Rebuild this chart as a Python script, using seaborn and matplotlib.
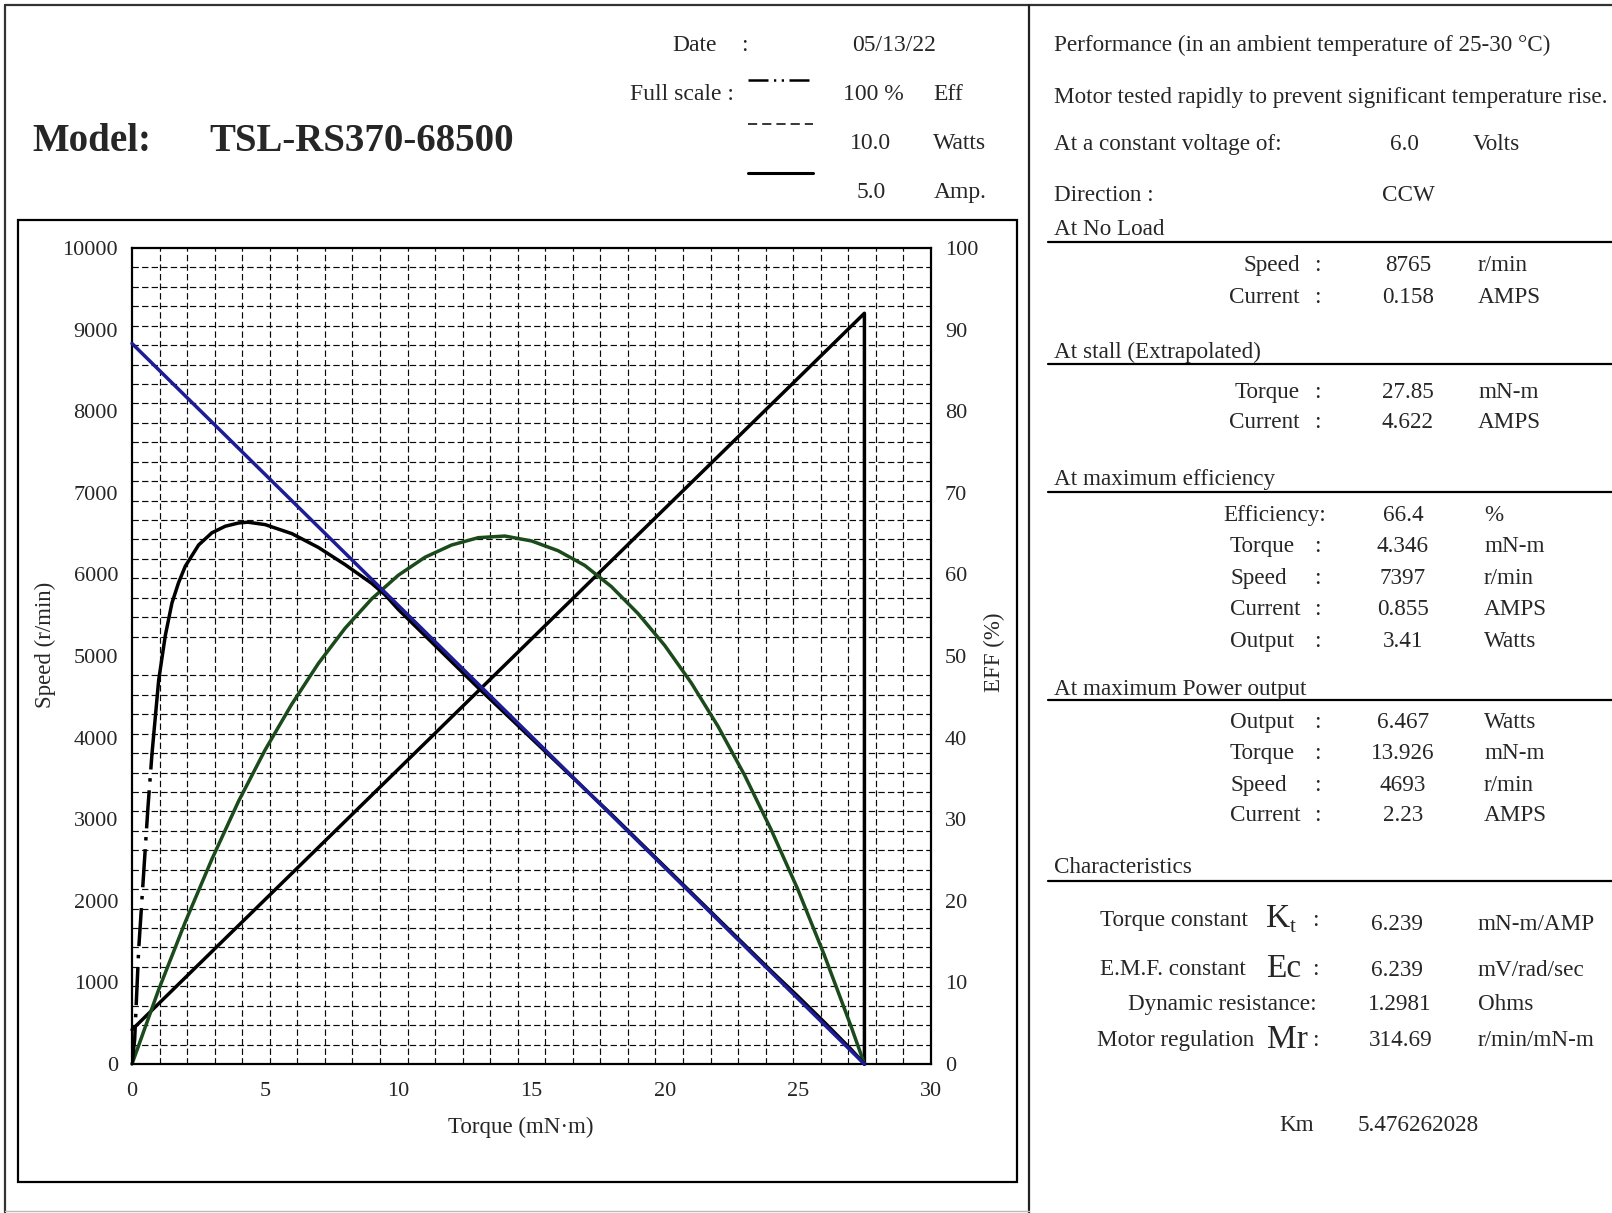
import matplotlib
matplotlib.use("Agg")
import numpy as np
import matplotlib.pyplot as plt
import seaborn as sns
from matplotlib.lines import Line2D
from matplotlib.patches import Rectangle
from matplotlib.ticker import FixedLocator, MultipleLocator

# %%
# values (torque in mN-m)
speed_torque = [0, 27.5]
speed_rpm = [8830, 0]

current_torque = [0, 27.5, 27.5]
current_amp = [0.21, 4.60, 0]

power_torque = [0, 1, 2, 3, 4, 5, 6, 7, 8, 9, 10, 11, 12, 13, 14, 15, 16, 17,
                18, 19, 20, 21, 22, 23, 24, 25, 26, 27, 27.5]
power_watt = [0, 0.91, 1.74, 2.51, 3.22, 3.85, 4.41, 4.91, 5.34, 5.70, 5.99,
              6.21, 6.36, 6.45, 6.47, 6.41, 6.29, 6.11, 5.85, 5.52, 5.13, 4.67,
              4.14, 3.54, 2.87, 2.14, 1.33, 0.46, 0]

eff_torque = [0, 0.1, 0.25, 0.45, 0.6, 0.75, 1, 1.25, 1.5, 1.75, 2, 2.5, 3,
              3.5, 4, 4.35, 5, 6, 7, 8, 9, 9.5, 10, 11, 12, 13, 14, 15, 16, 17,
              18, 19, 20, 21, 22, 23, 24, 25, 26, 27, 27.5]
eff_pct = [0, 3, 14, 24, 31.5, 38, 47, 52.5, 56.5, 59, 61, 63.6, 65.1, 65.9,
           66.3, 66.4, 66.1, 65, 63.3, 61.2, 58.9, 57.5, 55.7, 52.5, 49.3, 46.1,
           43.0, 39.9, 36.8, 33.7, 30.6, 27.4, 24.2, 21.0, 17.8, 14.6, 11.4,
           8.3, 5.1, 1.8, 0]

# full scale of the chart (left axis top = 10000, right axis top = 100 %)
full_amp = 5.0
full_watt = 10.0
y_top = 10000

BLUE = "#1c1c96"
GREEN = "#1b4a1b"

# %%
sns.set_style("white")
plt.rcParams["font.family"] = ["Liberation Serif", "DejaVu Serif"]

W, H = 1612, 1213
fig = plt.figure(figsize=(W / 100, H / 100), dpi=100)


def fx(x):
    return x / W


def fy(y):
    return 1 - y / H


ax = fig.add_axes([fx(132), fy(1064), (931 - 132) / W, (1064 - 248) / H])
ax2 = ax.twinx()

sns.lineplot(x=current_torque, y=np.array(current_amp) / full_amp * y_top,
             ax=ax, color="black", lw=2.5, sort=False, estimator=None,
             clip_on=False)
sns.lineplot(x=power_torque, y=np.array(power_watt) / full_watt * y_top,
             ax=ax, color=GREEN, lw=2.5, sort=False, estimator=None,
             clip_on=False)

eff_torque = np.array(eff_torque)
eff_pct = np.array(eff_pct)
low = eff_torque <= 0.75
sns.lineplot(x=eff_torque[low], y=eff_pct[low], ax=ax2, color="black", lw=2.5,
             sort=False, estimator=None, linestyle=(0, (11, 2.5, 1, 2.5)))
sns.lineplot(x=eff_torque[eff_torque >= 0.75], y=eff_pct[eff_torque >= 0.75],
             ax=ax2, color="black", lw=2.5, sort=False, estimator=None,
             clip_on=False)
# speed drawn last (on the % axis) so it sits over the efficiency tail
sns.lineplot(x=speed_torque, y=np.array(speed_rpm) / y_top * 100, ax=ax2,
             color=BLUE, lw=2.5, sort=False, estimator=None, clip_on=False)

ax.set_xlim(0, 30)
ax.set_ylim(0, 10000)
ax2.set_ylim(0, 100)
ax.xaxis.set_major_locator(MultipleLocator(5))
ax.yaxis.set_major_locator(MultipleLocator(1000))
ax2.yaxis.set_major_locator(MultipleLocator(10))
# the printed grid does not line up with the tick labels
ax.xaxis.set_minor_locator(FixedLocator(np.linspace(0, 30, 30)))
ax.yaxis.set_minor_locator(FixedLocator(np.linspace(0, 10000, 43)))
ax.grid(which="major", visible=False)
ax.grid(which="minor", color="#0a0a0a", lw=0.85, ls=(0, (5.4, 2.7)))
ax2.grid(False)
ax.set_axisbelow(True)

ax.tick_params(which="both", length=0, labelsize=16)
ax.tick_params(axis="y", pad=10)
ax.tick_params(axis="x", pad=13)
ax2.tick_params(which="both", length=0, labelsize=16, pad=10)
for s in ax.spines.values():
    s.set_linewidth(1.6)
    s.set_color("black")
for s in ax2.spines.values():
    s.set_visible(False)

ax.set_xlabel("Torque (mN\u00b7m)", fontsize=16.5, va="center")
ax.xaxis.set_label_coords(0.487, -0.078)
ax.set_ylabel("Speed (r/min)", fontsize=16.5, va="center")
ax.yaxis.set_label_coords(-0.108, 0.514)
ax2.set_ylabel("EFF (%)", fontsize=16.5, va="center", rotation=90)
ax2.yaxis.set_label_coords(1.079, 0.504)

# %%
# frames
def hline(y, x0, x1, lw=1.6, color="black"):
    fig.add_artist(Line2D([fx(x0), fx(x1)], [fy(y), fy(y)], lw=lw, color=color))


def vline(x, y0, y1, lw=1.6, color="black"):
    fig.add_artist(Line2D([fx(x), fx(x)], [fy(y0), fy(y1)], lw=lw, color=color))


hline(5, 5, W, lw=1.6, color="#333333")
vline(5, 5, H, lw=1.6, color="#333333")
vline(1029, 5, H, lw=1.6, color="#222222")
hline(1211, 5, 1029, lw=1.0, color="#bbbbbb")
fig.add_artist(Rectangle((fx(18), fy(1182)), (1017 - 18) / W, (1182 - 220) / H,
                         transform=fig.transFigure, fill=False, lw=1.6,
                         edgecolor="black"))

# header
fs_h = 17
fig.text(fx(32), fy(137), "Model:", fontsize=28, fontweight="bold",
         va="center_baseline")
fig.text(fx(209), fy(137), "TSL-RS370-68500", fontsize=28, fontweight="bold",
         va="center_baseline")
fig.text(fx(672), fy(43), "Date", fontsize=fs_h, va="center_baseline")
fig.text(fx(744), fy(43), ":", fontsize=fs_h, va="center_baseline", ha="center")
fig.text(fx(852), fy(43), "05/13/22", fontsize=fs_h, va="center_baseline")
fig.text(fx(734), fy(92), "Full scale :", fontsize=fs_h, va="center_baseline",
         ha="right")
fig.text(fx(843), fy(92), "100 %", fontsize=fs_h, va="center_baseline")
fig.text(fx(933), fy(92), "Eff", fontsize=fs_h, va="center_baseline")
fig.text(fx(850), fy(141), "10.0", fontsize=fs_h, va="center_baseline")
fig.text(fx(933), fy(141), "Watts", fontsize=fs_h, va="center_baseline")
fig.text(fx(857), fy(190), "5.0", fontsize=fs_h, va="center_baseline")
fig.text(fx(934), fy(190), "Amp.", fontsize=fs_h, va="center_baseline")
fig.add_artist(Line2D([fx(748), fx(813)], [fy(80), fy(80)], lw=1.8,
                      color="black", ls=(0, (8, 2.2, 0.9, 2.2, 0.9, 2.2))))
fig.add_artist(Line2D([fx(748), fx(813)], [fy(124), fy(124)], lw=1.1,
                      color="black", ls=(0, (6, 3.3))))
fig.add_artist(Line2D([fx(748), fx(813)], [fy(173), fy(173)], lw=2.2,
                      color="black"))

# %%
# right panel
fs = 16.7
x0 = 1054


def t(x, y, s, ha="left", size=fs):
    fig.text(fx(x), fy(y), s, fontsize=size, ha=ha, va="center_baseline")


t(x0, 43, "Performance (in an ambient temperature of 25-30 \u00b0C)")
t(x0, 95, "Motor tested rapidly to prevent significant temperature rise.")
t(x0, 142, "At a constant voltage of:")
t(1404, 142, "6.0", ha="center")
t(1473, 142, "Volts")
t(x0, 193, "Direction :")
t(1408, 193, "CCW", ha="center")

sections = [
    ("At No Load", 227, 242),
    ("At stall (Extrapolated)", 350, 364),
    ("At maximum efficiency", 477, 492),
    ("At maximum Power output", 687, 700),
    ("Characteristics", 865, 881),
]
for title, ty, ly in sections:
    t(x0, ty, title)
    hline(ly, 1048, W, lw=1.6)

# label, y, value, unit
rows_right = [
    ("Speed", 263, "8765", "r/min"),
    ("Current", 295, "0.158", "AMPS"),
    ("Torque", 390, "27.85", "mN-m"),
    ("Current", 420, "4.622", "AMPS"),
]
for lab, y, val, unit in rows_right:
    t(1300, y, lab, ha="right")
    t(1317, y, ":", ha="center")
    t(1408, y, val, ha="center")
    t(1478, y, unit)

rows_left = [
    ("Torque", 544, "4.346", "mN-m"),
    ("Speed", 576, "7397", "r/min"),
    ("Current", 607, "0.855", "AMPS"),
    ("Output", 639, "3.41", "Watts"),
    ("Output", 720, "6.467", "Watts"),
    ("Torque", 751, "13.926", "mN-m"),
    ("Speed", 783, "4693", "r/min"),
    ("Current", 813, "2.23", "AMPS"),
]
t(1223, 513, "Efficiency:")
t(1403, 513, "66.4", ha="center")
t(1484, 513, "%")
for lab, y, val, unit in rows_left:
    t(1230, y, lab)
    t(1317, y, ":", ha="center")
    t(1403, y, val, ha="center")
    t(1484, y, unit)

# characteristics
t(1248, 918, "Torque constant", ha="right")
t(1266, 915, "K", size=24)
t(1290, 925, "t", size=15)
t(1315, 918, ":", ha="center")
t(1397, 922, "6.239", ha="center")
t(1477, 922, "mN-m/AMP")

t(1246, 967, "E.M.F. constant", ha="right")
t(1266, 965, "Ec", size=24)
t(1315, 967, ":", ha="center")
t(1397, 968, "6.239", ha="center")
t(1477, 968, "mV/rad/sec")

t(1317, 1002, "Dynamic resistance:", ha="right")
t(1400, 1002, "1.2981", ha="center")
t(1478, 1002, "Ohms")

t(1254, 1038, "Motor regulation", ha="right")
t(1267, 1036, "Mr", size=24)
t(1315, 1038, ":", ha="center")
t(1401, 1038, "314.69", ha="center")
t(1478, 1038, "r/min/mN-m")

t(1297, 1123, "Km", ha="center")
t(1358, 1123, "5.476262028")

fig.savefig("out.png", dpi=100)
